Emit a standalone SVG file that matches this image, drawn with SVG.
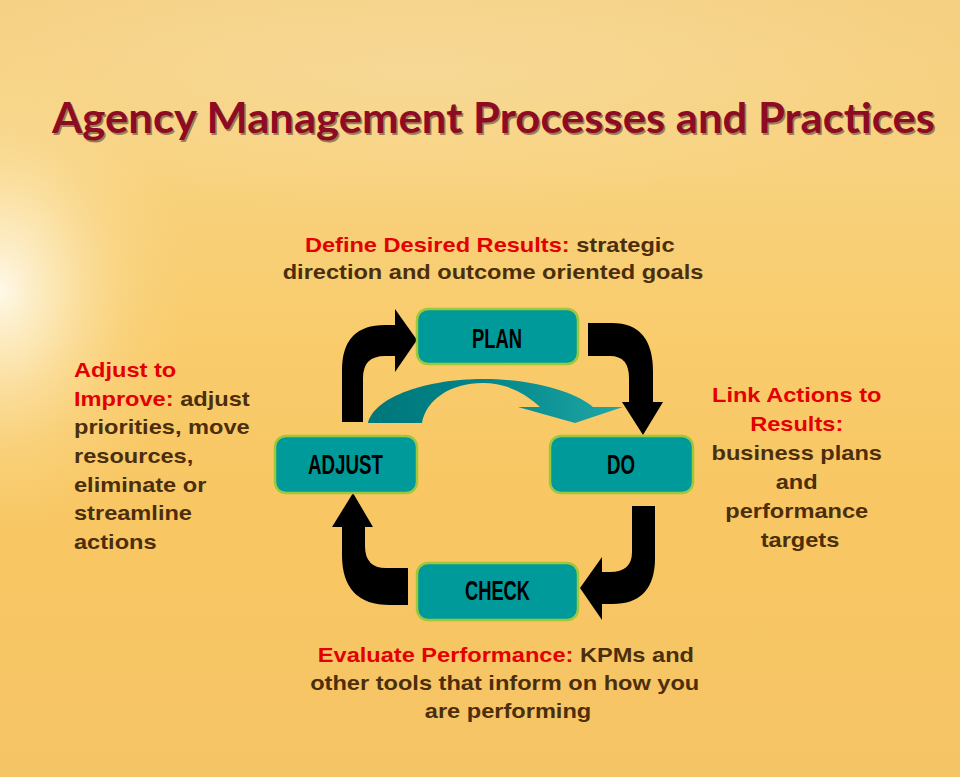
<svg xmlns="http://www.w3.org/2000/svg" width="960" height="777" viewBox="0 0 960 777">
<defs>
  <linearGradient id="bg" x1="0" y1="0" x2="0" y2="1">
    <stop offset="0" stop-color="#f5d083"/>
    <stop offset="0.22" stop-color="#f8d27e"/>
    <stop offset="0.45" stop-color="#f9cb6b"/>
    <stop offset="0.7" stop-color="#f8c662"/>
    <stop offset="1" stop-color="#f5c466"/>
  </linearGradient>
  <radialGradient id="glow" cx="0" cy="0" r="1" gradientUnits="userSpaceOnUse" gradientTransform="translate(0,290) scale(190,250)">
    <stop offset="0" stop-color="#fffbee" stop-opacity="0.95"/>
    <stop offset="0.3" stop-color="#fdf0cc" stop-opacity="0.7"/>
    <stop offset="0.65" stop-color="#fbe2a4" stop-opacity="0.3"/>
    <stop offset="1" stop-color="#f9d88a" stop-opacity="0"/>
  </radialGradient>
  <radialGradient id="haze" cx="0" cy="0" r="1" gradientUnits="userSpaceOnUse" gradientTransform="translate(420,70) scale(560,140)">
    <stop offset="0" stop-color="#f8e2ae" stop-opacity="0.45"/>
    <stop offset="1" stop-color="#f8e2ae" stop-opacity="0"/>
  </radialGradient>
  <linearGradient id="teal" x1="368" y1="0" x2="623" y2="0" gradientUnits="userSpaceOnUse">
    <stop offset="0" stop-color="#00777a"/>
    <stop offset="0.45" stop-color="#00858a"/>
    <stop offset="1" stop-color="#22a6a6"/>
  </linearGradient>
  <style>
    .box { fill: #009a9a; stroke: #9cc83a; stroke-width: 2.5; }
    .blabel { font-family: "Liberation Sans", Arial, sans-serif; font-weight: bold; font-size: 27px; fill: #000; }
    .body { font-family: "Liberation Sans", Arial, sans-serif; font-weight: bold; font-size: 20px; fill: #4b2e0c; }
    .red { fill: #e30000; }
    .arrow { fill: #000; }
    .title { font-family: Lato, "Open Sans", "Liberation Sans", sans-serif; font-weight: bold; font-size: 42px; }
  </style>
</defs>

<rect x="0" y="0" width="960" height="777" fill="url(#bg)"/>
<rect x="0" y="0" width="960" height="777" fill="url(#haze)"/>
<rect x="0" y="0" width="960" height="777" fill="url(#glow)"/>

<g id="title">
  <text class="title" x="53.5" y="134.5" fill="#3a2a1c" fill-opacity="0.5" textLength="883" lengthAdjust="spacingAndGlyphs">Agency Management Processes and Practices</text>
  <text class="title" x="52" y="133" fill="#8e0b24" textLength="883" lengthAdjust="spacingAndGlyphs">Agency Management Processes and Practices</text>
</g>

<g id="connectors">
  <path class="arrow" d="M342,422 L342,370 Q342,325 385,325 L395,325 L395,309 L417,340 L395,372 L395,356 L385,356 Q363,356 363,378 L363,422 Z"/>
  <path class="arrow" d="M588,323 L612,323 Q653,323 653,372 L653,402 L663,402 L643,435 L622,402 L629,402 L629,378 Q629,356 610,356 L588,356 Z"/>
  <path class="arrow" d="M632,506 L655,506 L655,558 Q655,604 612,604 L602,604 L602,620 L580,588 L602,557 L602,572 L610,572 Q632,572 632,552 Z"/>
  <path class="arrow" d="M408,568 L386,568 Q365,568 365,546 L365,527 L373,527 L353,493 L332,527 L342,527 L342,555 Q342,605 390,605 L408,605 Z"/>
  <path fill="url(#teal)" d="M368,423 C375,396 428,379 483,379 C538,379 578,394 593,407 L623,407 L575,423 L518,407 L540,407 C524,392 505,383 483,383 C450,383 426,400 422,423 Z"/>
</g>

<g id="node-plan">
  <rect class="box" x="417" y="309" width="161" height="55" rx="11"/>
  <text class="blabel" x="472" y="348" textLength="50" lengthAdjust="spacingAndGlyphs">PLAN</text>
</g>
<g id="node-adjust">
  <rect class="box" x="275" y="436" width="142" height="57" rx="11"/>
  <text class="blabel" x="308" y="474" textLength="75" lengthAdjust="spacingAndGlyphs">ADJUST</text>
</g>
<g id="node-do">
  <rect class="box" x="550" y="436" width="143" height="57" rx="11"/>
  <text class="blabel" x="607" y="474" textLength="28" lengthAdjust="spacingAndGlyphs">DO</text>
</g>
<g id="node-check">
  <rect class="box" x="417" y="563" width="161" height="57" rx="11"/>
  <text class="blabel" x="465" y="600" textLength="65" lengthAdjust="spacingAndGlyphs">CHECK</text>
</g>

<g id="text-plan" transform="translate(493,0) scale(1.18,1) translate(-493,0)">
  <text class="body" text-anchor="middle">
    <tspan x="493" y="252"><tspan class="red">Define Desired Results:</tspan> strategic</tspan>
    <tspan x="493" y="279">direction and outcome oriented goals</tspan>
  </text>
</g>
<g id="text-adjust" transform="translate(74,0) scale(1.18,1) translate(-74,0)">
  <text class="body">
    <tspan x="74" y="377" class="red">Adjust to</tspan>
    <tspan x="74" y="405.7"><tspan class="red">Improve:</tspan> adjust</tspan>
    <tspan x="74" y="434.4">priorities, move</tspan>
    <tspan x="74" y="463.1">resources,</tspan>
    <tspan x="74" y="491.8">eliminate or</tspan>
    <tspan x="74" y="520.5">streamline</tspan>
    <tspan x="74" y="549.2">actions</tspan>
  </text>
</g>
<g id="text-do" transform="translate(800,0) scale(1.18,1) translate(-800,0)">
  <text class="body" text-anchor="middle">
    <tspan x="800" y="402" class="red">Link Actions to</tspan>
    <tspan x="800" y="431" class="red">Results:</tspan>
    <tspan x="800" y="460">business plans</tspan>
    <tspan x="800" y="489">and</tspan>
    <tspan x="800" y="518">performance</tspan>
    <tspan x="800" y="547">targets</tspan>
  </text>
</g>
<g id="text-check" transform="translate(508,0) scale(1.18,1) translate(-508,0)">
  <text class="body" text-anchor="middle">
    <tspan x="509" y="662"><tspan class="red">Evaluate Performance:</tspan>  KPMs and</tspan>
    <tspan x="508" y="690">other tools that inform on how you</tspan>
    <tspan x="508" y="718">are performing</tspan>
  </text>
</g>
</svg>
